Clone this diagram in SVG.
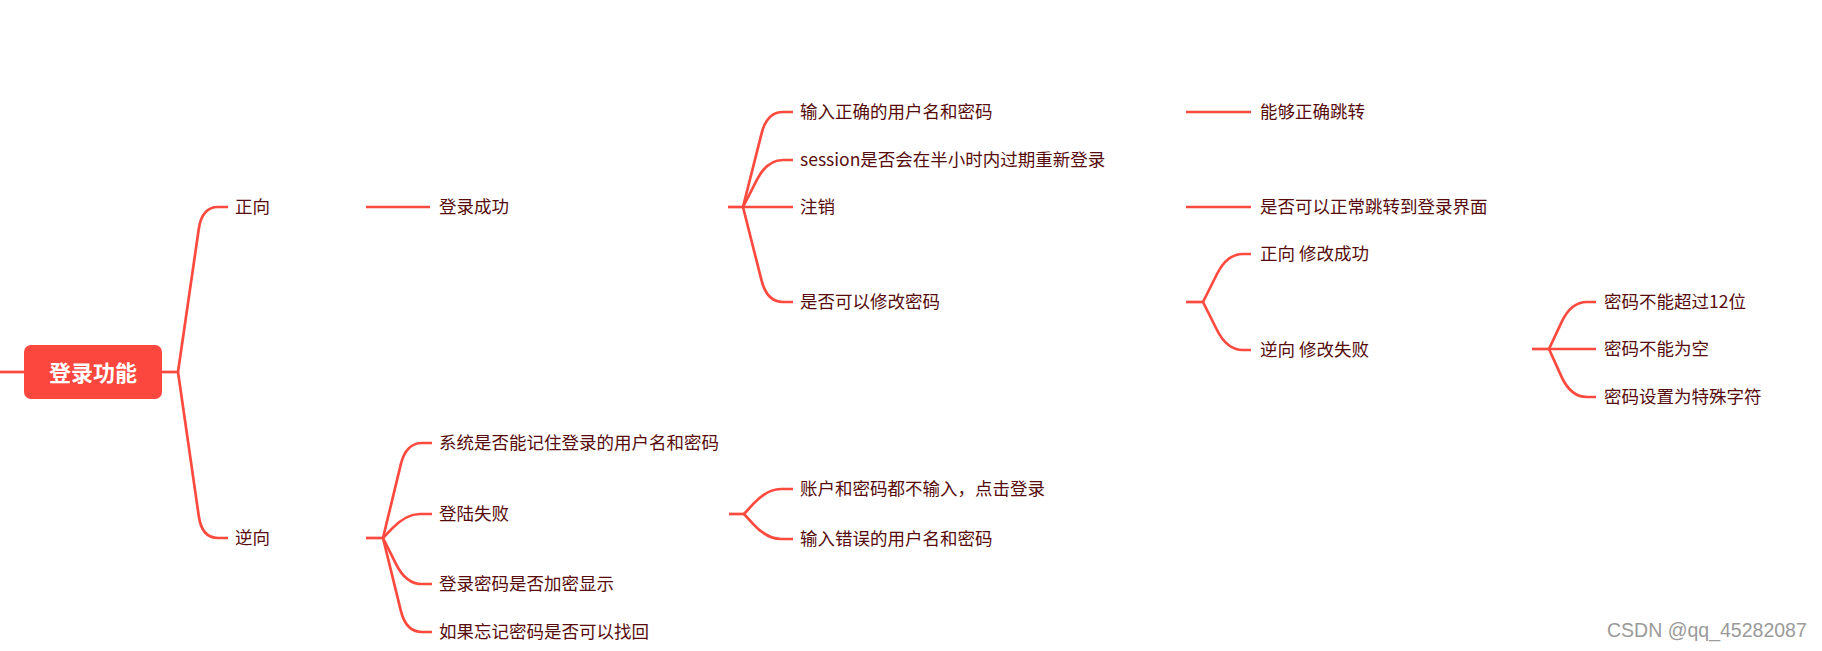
<svg xmlns="http://www.w3.org/2000/svg" width="1822" height="651" viewBox="0 0 1822 651">
<style>
.ln{fill:none;stroke:#fd4a3f;stroke-width:2.7;stroke-linecap:butt;stroke-linejoin:round}
.t{font-family:"Noto Sans CJK SC","Microsoft YaHei",sans-serif;font-size:17.5px;fill:#560c0c;dominant-baseline:central}
.root{font-family:"Noto Sans CJK SC",sans-serif;font-size:22px;font-weight:bold;fill:#ffffff;text-anchor:middle;dominant-baseline:central}
.wm{font-family:"Liberation Sans",Arial,sans-serif;font-size:19.5px;fill:#9a9a9a;dominant-baseline:central}
</style>
<rect width="1822" height="651" fill="#ffffff"/>
<g id="connectors">
<path class="ln" d="M0 372 L24 372"/>
<path class="ln" d="M162 372 L178 372"/>
<path class="ln" d="M178 372 L198.8 228.8 Q202 207 218 207 L228 207"/>
<path class="ln" d="M178 372 L198.8 516.2 Q202 538 218 538 L228 538"/>
<path class="ln" d="M366 207 L430 207"/>
<path class="ln" d="M366 538 L383 538"/>
<path class="ln" d="M383 538 L400.8 464.4 Q406 443 422 443 L432 443"/>
<path class="ln" d="M383 538 L392.2 528.4 Q406 514 420 514 L432 514"/>
<path class="ln" d="M383 538 L396.2 564.3 Q406 584 422 584 L432 584"/>
<path class="ln" d="M383 538 L400.8 610.6 Q406 632 422 632 L432 632"/>
<path class="ln" d="M728 207 L743 207"/>
<path class="ln" d="M743 207 L761.6 133.3 Q767 112 783 112 L793 112"/>
<path class="ln" d="M743 207 L757 179.6 Q767 160 783 160 L793 160"/>
<path class="ln" d="M743 207 L793 207"/>
<path class="ln" d="M743 207 L761.6 280.7 Q767 302 783 302 L793 302"/>
<path class="ln" d="M1186 112 L1251 112"/>
<path class="ln" d="M1186 207 L1251 207"/>
<path class="ln" d="M1186 302 L1203 302"/>
<path class="ln" d="M1203 302 L1217 274 Q1227 254 1243 254 L1251 254"/>
<path class="ln" d="M1203 302 L1217 330 Q1227 350 1243 350 L1251 350"/>
<path class="ln" d="M1532 349 L1549 349"/>
<path class="ln" d="M1549 349 L1561.7 321.9 Q1571 302 1587 302 L1596 302"/>
<path class="ln" d="M1549 349 L1596 349"/>
<path class="ln" d="M1549 349 L1561.7 377.1 Q1571 397 1587 397 L1596 397"/>
<path class="ln" d="M729 514 L744 514"/>
<path class="ln" d="M744 514 L753.5 503.7 Q767 489 781 489 L793 489"/>
<path class="ln" d="M744 514 L753.5 524.3 Q767 539 781 539 L793 539"/>
</g>
<g id="root"><rect x="24" y="345" width="138" height="54" rx="7" fill="#fb473d"/><text class="root" x="93" y="371">登录功能</text></g>
<g id="n-zhengxiang"><text class="t" x="235" y="205">正向</text></g>
<g id="n-nixiang"><text class="t" x="235" y="536">逆向</text></g>
<g id="n-dlcg"><text class="t" x="439" y="205">登录成功</text></g>
<g id="n-srzq"><text class="t" x="800" y="110">输入正确的用户名和密码</text></g>
<g id="n-session"><text class="t" x="800" y="158">session是否会在半小时内过期重新登录</text></g>
<g id="n-zx"><text class="t" x="800" y="205">注销</text></g>
<g id="n-xgmm"><text class="t" x="800" y="300">是否可以修改密码</text></g>
<g id="n-ngzq"><text class="t" x="1260" y="110">能够正确跳转</text></g>
<g id="n-zctz"><text class="t" x="1260" y="205">是否可以正常跳转到登录界面</text></g>
<g id="n-xgcg"><text class="t" x="1260" y="252">正向 修改成功</text></g>
<g id="n-xgsb"><text class="t" x="1260" y="348">逆向 修改失败</text></g>
<g id="n-12"><text class="t" x="1604" y="300">密码不能超过12位</text></g>
<g id="n-kong"><text class="t" x="1604" y="347">密码不能为空</text></g>
<g id="n-tszf"><text class="t" x="1604" y="395">密码设置为特殊字符</text></g>
<g id="n-jz"><text class="t" x="439" y="441">系统是否能记住登录的用户名和密码</text></g>
<g id="n-dlsb"><text class="t" x="439" y="512">登陆失败</text></g>
<g id="n-jm"><text class="t" x="439" y="582">登录密码是否加密显示</text></g>
<g id="n-zh"><text class="t" x="439" y="630">如果忘记密码是否可以找回</text></g>
<g id="n-bsr"><text class="t" x="800" y="487">账户和密码都不输入，点击登录</text></g>
<g id="n-cw"><text class="t" x="800" y="537">输入错误的用户名和密码</text></g>
<text class="wm" x="1607" y="630">CSDN @qq_45282087</text>
</svg>
